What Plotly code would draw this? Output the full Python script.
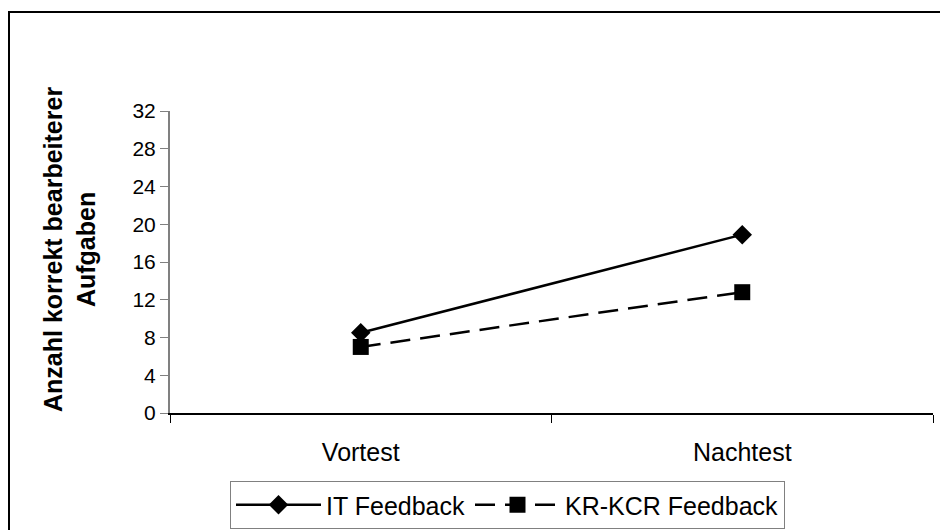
import plotly.graph_objects as go

# Test phases and scores per feedback group
phases = ["Vortest", "Nachtest"]
it_feedback = [8.5, 18.9]
kr_kcr_feedback = [7.0, 12.8]

y_ticks = [0, 4, 8, 12, 16, 20, 24, 28, 32]

FONT = "Liberation Sans, Arial, sans-serif"

fig = go.Figure()

fig.add_trace(go.Scatter(
    x=phases, y=it_feedback, name="IT Feedback",
    mode="lines+markers",
    line=dict(color="black", width=2.5),
    marker=dict(symbol="diamond", size=15, color="black"),
))

fig.add_trace(go.Scatter(
    x=phases, y=kr_kcr_feedback, name="KR-KCR Feedback",
    mode="lines+markers",
    line=dict(color="black", width=2.5, dash="20px,10px"),
    marker=dict(symbol="square", size=16, color="black"),
))

# Outer frame around the chart area
fig.add_shape(
    type="rect", xref="paper", yref="paper",
    x0=(9 - 170) / 763, x1=1.2, y0=-0.6, y1=(413 - 12) / 302,
    line=dict(color="black", width=2), fillcolor="rgba(0,0,0,0)",
)

# Rotated two-line axis title
fig.add_annotation(
    text="<b>Anzahl korrekt bearbeiterer<br>Aufgaben</b>",
    xref="paper", yref="paper",
    x=(69 - 170) / 763, y=(413 - 250) / 302,
    xanchor="center", yanchor="middle",
    textangle=-90, showarrow=False,
    font=dict(family=FONT, size=25, color="black"),
)

fig.update_layout(
    width=940, height=530,
    margin=dict(l=170, r=7, t=111, b=117),
    paper_bgcolor="white", plot_bgcolor="white",
    font=dict(family=FONT, color="black"),
    showlegend=True,
    legend=dict(
        orientation="h",
        xref="container", yref="container",
        x=230 / 940, y=1 - 481 / 530,
        xanchor="left", yanchor="top",
        bordercolor="#808080", borderwidth=1,
        font=dict(family=FONT, size=25, color="black"),
        itemwidth=85,
        tracegroupgap=0,
    ),
    xaxis=dict(
        type="category",
        range=[-0.5, 1.5],
        tickson="boundaries",
        ticks="outside", ticklen=8, tickcolor="black", tickwidth=1,
        showline=True, linecolor="black", linewidth=2,
        showgrid=False, zeroline=False,
        tickfont=dict(family=FONT, size=25, color="black"),
        ticklabelstandoff=16,
        fixedrange=True,
    ),
    yaxis=dict(
        range=[0, 32],
        tickvals=y_ticks,
        ticks="outside", ticklen=8, tickcolor="#808080", tickwidth=1,
        showline=True, linecolor="#808080", linewidth=2,
        showgrid=False, zeroline=False,
        tickfont=dict(family=FONT, size=21, color="black"),
        fixedrange=True,
    ),
)

fig.write_html("out.html")
